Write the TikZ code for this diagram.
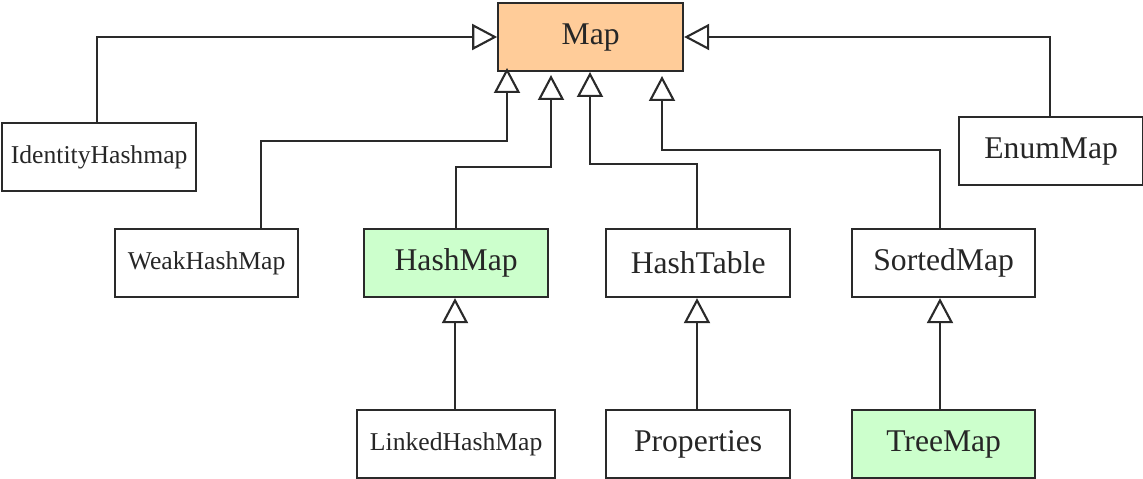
\documentclass[tikz,border=0pt]{standalone}
\usepackage{fontspec}
\setmainfont{Liberation Serif}
\usetikzlibrary{arrows.meta}
\definecolor{maporange}{HTML}{FFCC99}
\definecolor{mapgreen}{HTML}{CCFFCC}
\definecolor{edgegrey}{HTML}{2A2A2A}
\begin{document}
\begin{tikzpicture}[x=0.02cm,y=-0.02cm,
  cls/.style={draw=edgegrey,line width=1.3pt,inner sep=0pt,anchor=north west,text=black!85},
  big/.style={font=\fontsize{18}{20}\selectfont},
  small/.style={font=\fontsize{14.6}{17}\selectfont},
  inherit/.style={draw=edgegrey,line width=1.2pt,-{Triangle[open,length=0.5cm,width=0.52cm]}}]
\useasboundingbox (0,0) rectangle (1143,479);
\newcommand{\clsbox}[7]{%
  \node[cls,#7,minimum width=#4*0.02cm-1.3pt,minimum height=#5*0.02cm-1.3pt] (#1) at ([shift={(0.65pt,-0.65pt)}]#2,#3) {#6};}
\clsbox{map}{496}{1}{187}{70}{Map}{big,fill=maporange}
\clsbox{ihm}{0}{121}{196}{70}{IdentityHashmap}{small}
\clsbox{enum}{957}{115}{186}{70}{EnumMap}{big}
\clsbox{weak}{113}{227}{185}{70}{WeakHashMap}{small}
\clsbox{hash}{362}{227}{186}{70}{HashMap}{big,fill=mapgreen}
\clsbox{table}{604}{227}{186}{70}{HashTable}{big}
\clsbox{sorted}{850}{227}{185}{70}{SortedMap}{big}
\clsbox{linked}{355}{408}{200}{70}{LinkedHashMap}{small}
\clsbox{props}{604}{408}{186}{70}{Properties}{big}
\clsbox{tree}{850}{408}{185}{70}{TreeMap}{big,fill=mapgreen}
% tip points below Map
\coordinate (t1) at (507,68);
\coordinate (t2) at (551,75);
\coordinate (t3) at (590,72);
\coordinate (t4) at (662,76);
\draw[inherit] (ihm.north -| 97,0) |- (map.west |- 0,37);
\draw[inherit] (enum.north -| 1050,0) |- (map.east |- 0,37);
\draw[inherit] (weak.north -| 261,0) |- (507,141) -- (t1);
\draw[inherit] (hash.north) |- (551,167) -- (t2);
\draw[inherit] (table.north -| 697,0) |- (590,164) -- (t3);
\draw[inherit] (sorted.north -| 940,0) |- (662,150) -- (t4);
\draw[inherit] (linked.north -| 455,0) -- (hash.south -| 455,0);
\draw[inherit] (props.north -| 697,0) -- (table.south -| 697,0);
\draw[inherit] (tree.north -| 940,0) -- (sorted.south -| 940,0);
\end{tikzpicture}
\end{document}
